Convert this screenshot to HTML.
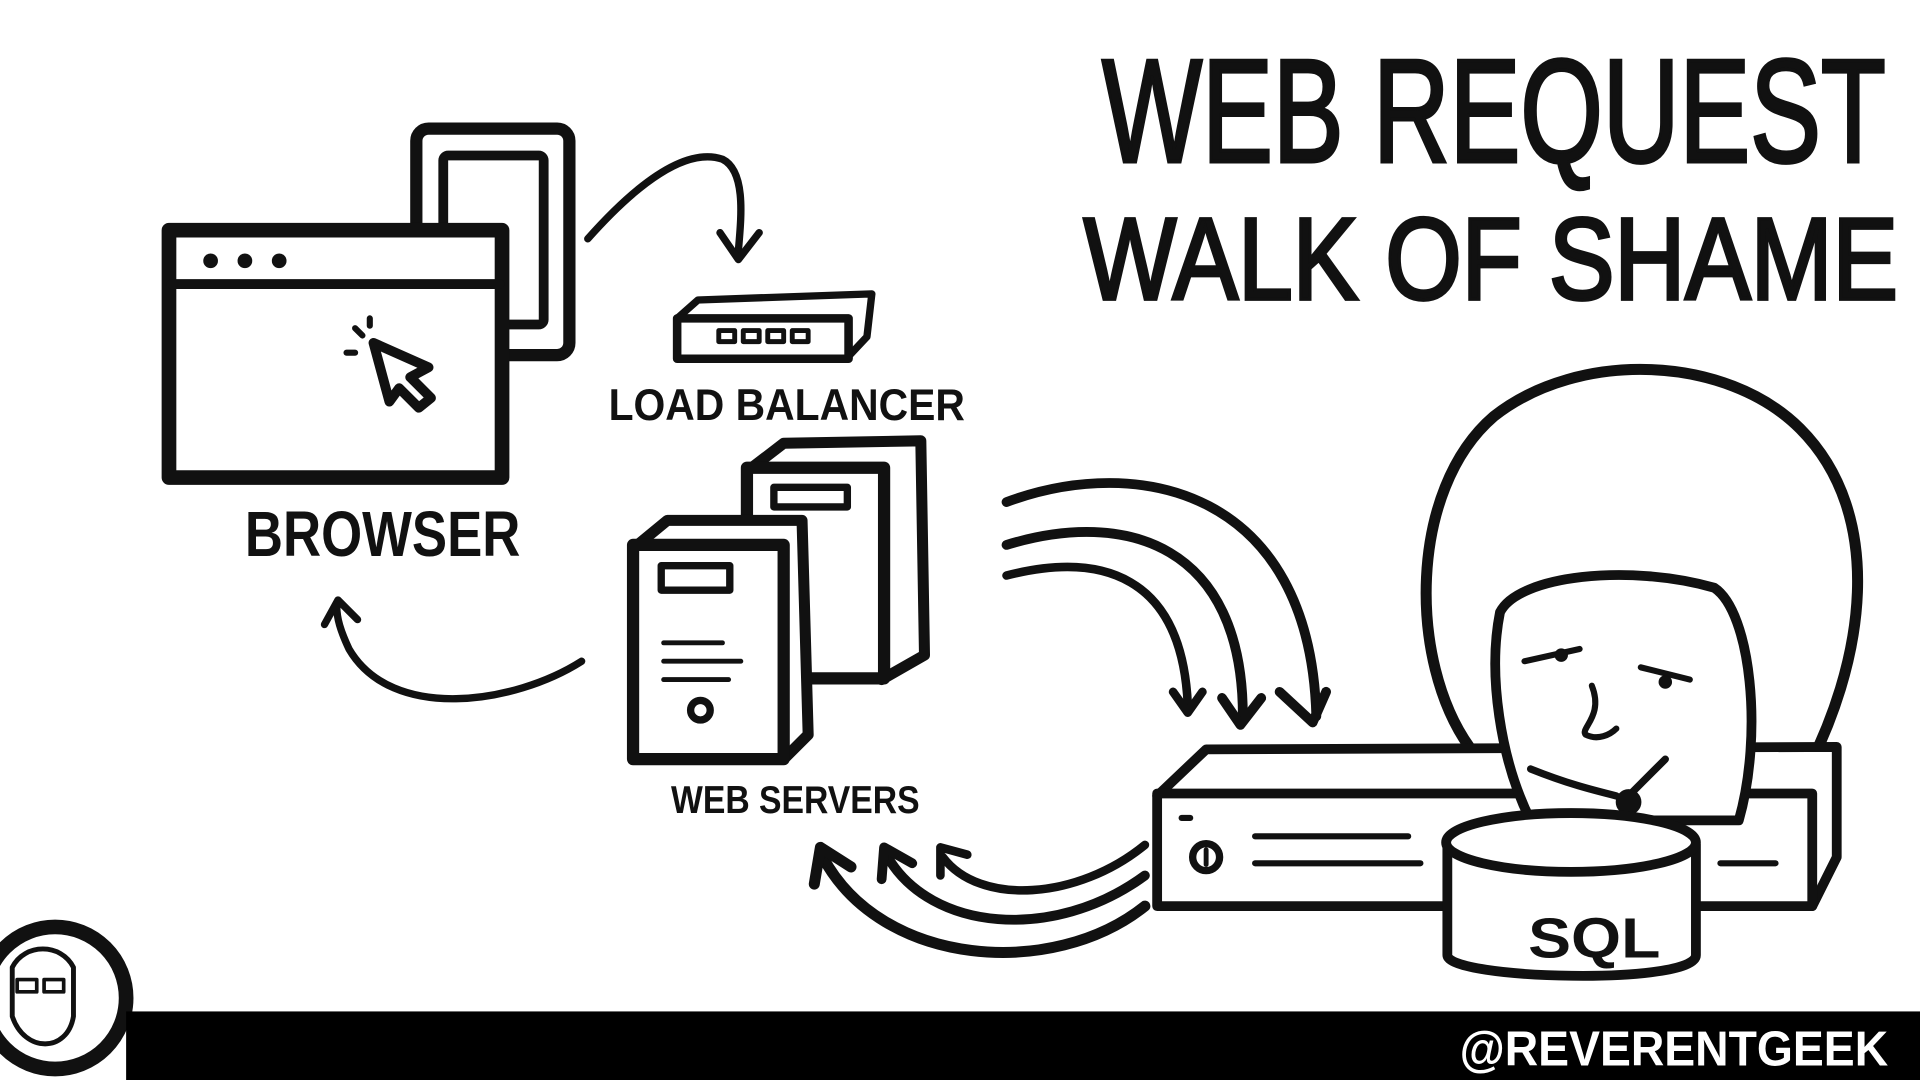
<!DOCTYPE html>
<html><head><meta charset="utf-8"><style>
html,body{margin:0;padding:0;background:#fff;width:1920px;height:1080px;overflow:hidden}
svg{display:block}
text{font-family:"Liberation Sans",sans-serif;font-weight:bold;fill:#111}
</style></head><body>
<svg width="1920" height="1080" viewBox="0 0 1568 882" xmlns="http://www.w3.org/2000/svg">
<text x="900" y="132" font-size="120" textLength="640" lengthAdjust="spacingAndGlyphs" style="font-weight:normal;stroke:#111;stroke-width:3">WEB REQUEST</text>
<text x="885" y="244" font-size="95" textLength="665" lengthAdjust="spacingAndGlyphs" style="font-weight:normal;stroke:#111;stroke-width:3">WALK OF SHAME</text>

<g fill="none" stroke="#111" stroke-linecap="round" stroke-linejoin="round">
<!-- phone -->
<rect x="340" y="105" width="125" height="185" rx="10" stroke-width="10"/>
<rect x="362" y="127" width="82" height="138" rx="4" stroke-width="8"/>
<!-- browser -->
<rect x="138" y="188" width="272" height="202" fill="#fff" stroke-width="12"/>
<line x1="140" y1="232" x2="408" y2="232" stroke-width="8"/>
<circle cx="172" cy="213" r="4" fill="#111" stroke-width="4"/>
<circle cx="200" cy="213" r="4" fill="#111" stroke-width="4"/>
<circle cx="228" cy="213" r="4" fill="#111" stroke-width="4"/>
<path d="M305,280 L350,300 L335,308 L352,325 L342,333 L326,317 L318,328 Z" stroke-width="8"/>
<path d="M290,268 L296,274 M283,288 L290,288 M302,260 L302,266" stroke-width="5"/>
<!-- arrow browser -> LB -->
<path d="M480,195 C520,150 560,120 590,130 C610,140 605,180 603,205" stroke-width="6"/>
<path d="M588,190 L603,212 L620,190" stroke-width="6"/>
<!-- load balancer -->
<path d="M553,260 L570,245 L712,240 L708,275 L692,292 Z" stroke-width="6"/>
<rect x="553" y="260" width="140" height="33" stroke-width="7" fill="#fff"/>
<rect x="587" y="270" width="13" height="9" stroke-width="4"/>
<rect x="607" y="270" width="13" height="9" stroke-width="4"/>
<rect x="627" y="270" width="13" height="9" stroke-width="4"/>
<rect x="647" y="270" width="13" height="9" stroke-width="4"/>
</g>
<text x="497" y="343" font-size="36" textLength="291" lengthAdjust="spacingAndGlyphs">LOAD BALANCER</text>
<text x="200" y="454" font-size="52" textLength="225" lengthAdjust="spacingAndGlyphs">BROWSER</text>

<g fill="none" stroke="#111" stroke-linecap="round" stroke-linejoin="round">
<!-- back server -->
<path d="M610,385 L640,362 L752,360 L755,535 L720,555" stroke-width="9"/>
<rect x="610" y="382" width="112" height="172" stroke-width="10" fill="#fff"/>
<rect x="632" y="398" width="60" height="16" stroke-width="6"/>
<!-- front server -->
<path d="M517,448 L545,425 L655,425 L660,600 L640,620" stroke-width="9" fill="#fff"/>
<rect x="517" y="445" width="123" height="175" stroke-width="10" fill="#fff"/>
<rect x="540" y="462" width="56" height="20" stroke-width="6"/>
<line x1="542" y1="525" x2="590" y2="525" stroke-width="4"/>
<line x1="542" y1="540" x2="605" y2="540" stroke-width="4"/>
<line x1="542" y1="555" x2="595" y2="555" stroke-width="4"/>
<circle cx="572" cy="580" r="8" stroke-width="6"/>
<!-- arrow servers -> browser -->
<path d="M475,540 C420,575 320,590 285,530 C278,515 275,505 275,495" stroke-width="6"/>
<path d="M265,510 L276,490 L292,506" stroke-width="6"/>
<!-- arrows to DB -->
<path d="M822,410 C930,370 1070,400 1075,585" stroke-width="8"/>
<path d="M1045,565 L1072,590 L1083,565" stroke-width="8"/>
<path d="M822,445 C920,415 1015,445 1015,585" stroke-width="8"/>
<path d="M998,570 L1013,592 L1030,570" stroke-width="8"/>
<path d="M822,470 C900,450 965,470 970,575" stroke-width="7"/>
<path d="M958,565 L970,582 L982,565" stroke-width="7"/>
<!-- arrows back to web servers -->
<path d="M935,690 C880,735 800,740 770,700" stroke-width="7"/>
<path d="M768,715 L768,692 L790,698" stroke-width="7"/>
<path d="M935,715 C860,770 760,760 725,700" stroke-width="8"/>
<path d="M720,718 L722,692 L745,705" stroke-width="8"/>
<path d="M935,740 C860,800 720,790 672,700" stroke-width="9"/>
<path d="M665,722 L670,692 L695,708" stroke-width="9"/>
<!-- helmet -->
<path d="M1200,610 C1150,540 1150,400 1220,340 C1290,285 1410,290 1470,350 C1540,420 1525,540 1470,640" stroke-width="9" fill="#fff"/>
<!-- server rack -->
<path d="M945,650 L985,612 L1500,610 L1500,700 L1480,740" stroke-width="8" fill="#fff"/>
<rect x="945" y="648" width="535" height="92" stroke-width="8" fill="#fff"/>
<line x1="965" y1="668" x2="972" y2="668" stroke-width="5"/>
<circle cx="985" cy="700" r="11" stroke-width="6"/>
<line x1="985" y1="694" x2="985" y2="706" stroke-width="4"/>
<line x1="1025" y1="683" x2="1150" y2="683" stroke-width="5"/>
<line x1="1025" y1="705" x2="1160" y2="705" stroke-width="5"/>
<line x1="1405" y1="705" x2="1450" y2="705" stroke-width="5"/>
<!-- face -->
<path d="M1225,500 C1240,470 1330,460 1400,480 C1430,500 1440,600 1420,670 L1250,670 C1225,620 1215,550 1225,500 Z" stroke-width="8" fill="#fff"/>
<path d="M1245,540 L1290,530 M1340,545 L1380,555" stroke-width="5"/>
<circle cx="1275" cy="535" r="5" fill="#111"/>
<circle cx="1360" cy="557" r="5" fill="#111"/>
<path d="M1300,560 C1310,585 1290,595 1295,600 C1305,605 1315,600 1320,595" stroke-width="5"/>
<path d="M1250,628 C1280,640 1300,645 1320,650" stroke-width="6"/>
<path d="M1360,620 L1330,650" stroke-width="6"/>
<circle cx="1330" cy="655" r="10" fill="#111"/>
<!-- SQL cylinder -->
<path d="M1182,690 L1182,780 C1182,800 1385,805 1385,780 L1385,690" stroke-width="8" fill="#fff"/>
<ellipse cx="1283" cy="688" rx="102" ry="24" stroke-width="8" fill="#fff"/>
<!-- avatar -->
<circle cx="45" cy="815" r="58" stroke-width="12" fill="#fff"/>
<path d="M10,790 C20,770 50,770 60,790 L60,830 C55,860 20,860 10,830 Z" stroke-width="4"/>
<rect x="14" y="800" width="16" height="10" stroke-width="3"/>
<rect x="36" y="800" width="16" height="10" stroke-width="3"/>
</g>
<text x="1248" y="782" font-size="46" textLength="108" lengthAdjust="spacingAndGlyphs">SQL</text>
<text x="548" y="664" font-size="32" textLength="203" lengthAdjust="spacingAndGlyphs">WEB SERVERS</text>
<rect x="103" y="826" width="1465" height="56" fill="#000"/>
<text x="1192" y="870" font-size="40" textLength="350" lengthAdjust="spacingAndGlyphs" style="fill:#fff">@REVERENTGEEK</text>
</svg>
</body></html>
